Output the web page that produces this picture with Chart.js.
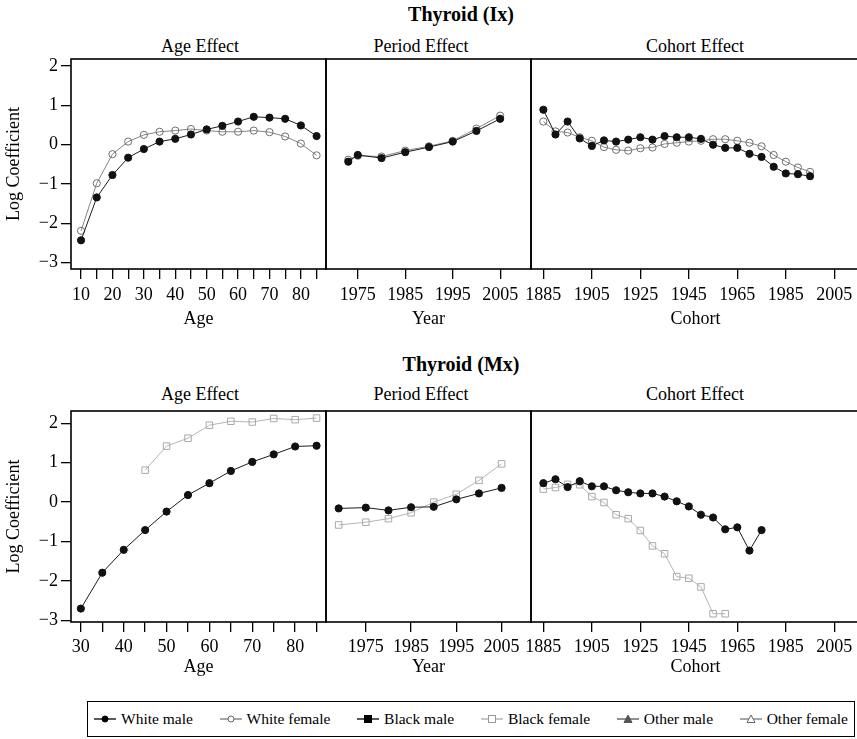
<!DOCTYPE html>
<html>
<head>
<meta charset="utf-8">
<script src="https://cdn.jsdelivr.net/npm/chart.js@4.4.1/dist/chart.umd.min.js"></script>
<style>
html,body{margin:0;padding:0;background:#fff;}
body{width:857px;height:739px;overflow:hidden;position:relative;font-family:'Liberation Serif','Times New Roman',serif;color:#000;}
canvas{position:absolute;}
.t{position:absolute;white-space:nowrap;transform:translateX(-50%);line-height:1;font-size:18px;}
.tt{font-size:20px;font-weight:bold;}
#legend{position:absolute;left:87px;top:701px;width:768px;height:36px;border:1.5px solid #000;display:flex;align-items:center;justify-content:space-between;padding:0 6px 0 6px;box-sizing:border-box;font-size:15.5px;}
#legend .it{display:flex;align-items:center;white-space:nowrap;}
#legend svg{margin-right:5px;}
</style>
</head>
<body>
<div class="t tt" style="left:461px;top:4px;">Thyroid (Ix)</div>
<div class="t" style="left:200px;top:37px;">Age Effect</div>
<div class="t" style="left:421px;top:37px;">Period Effect</div>
<div class="t" style="left:695px;top:37px;">Cohort Effect</div>
<div class="t tt" style="left:461px;top:354px;">Thyroid (Mx)</div>
<div class="t" style="left:200px;top:385px;">Age Effect</div>
<div class="t" style="left:421px;top:385px;">Period Effect</div>
<div class="t" style="left:695px;top:385px;">Cohort Effect</div>
<div id="legend"></div>
<script>
// ---------------- DATA ----------------
// Thyroid (Ix) - incidence
const ixAge = [10, 15, 20, 25, 30, 35, 40, 45, 50, 55, 60, 65, 70, 75, 80, 85];
const ixAgeWhiteMale   = [-2.43, -1.34, -0.77, -0.33, -0.11, 0.08, 0.15, 0.26, 0.39, 0.48, 0.59, 0.71, 0.69, 0.66, 0.49, 0.22];
const ixAgeWhiteFemale = [-2.19, -0.98, -0.24, 0.08, 0.25, 0.33, 0.36, 0.40, 0.36, 0.33, 0.33, 0.36, 0.32, 0.21, 0.03, -0.27];

const ixPeriod = [1973, 1975, 1980, 1985, 1990, 1995, 2000, 2005];
const ixPeriodWhiteMale   = [-0.43, -0.26, -0.34, -0.19, -0.06, 0.08, 0.35, 0.66];
const ixPeriodWhiteFemale = [-0.38, -0.28, -0.30, -0.15, -0.04, 0.10, 0.41, 0.74];

const ixCohort = [1885, 1890, 1895, 1900, 1905, 1910, 1915, 1920, 1925, 1930, 1935, 1940, 1945, 1950, 1955, 1960, 1965, 1970, 1975, 1980, 1985, 1990, 1995];
const ixCohortWhiteMale   = [0.89, 0.26, 0.59, 0.16, -0.03, 0.11, 0.08, 0.13, 0.19, 0.13, 0.22, 0.19, 0.19, 0.15, 0.00, -0.08, -0.08, -0.23, -0.31, -0.56, -0.73, -0.75, -0.80];
const ixCohortWhiteFemale = [0.59, 0.34, 0.31, 0.19, 0.10, -0.06, -0.13, -0.15, -0.09, -0.07, 0.02, 0.05, 0.08, 0.10, 0.14, 0.14, 0.10, 0.05, -0.04, -0.26, -0.43, -0.58, -0.69];

// Thyroid (Mx) - mortality
const mxAge = [30, 35, 40, 45, 50, 55, 60, 65, 70, 75, 80, 85];
const mxAgeWhiteMale = [-2.70, -1.79, -1.21, -0.71, -0.24, 0.18, 0.48, 0.79, 1.02, 1.21, 1.41, 1.43];
const mxAgeBlackFemaleX = [45, 50, 55, 60, 65, 70, 75, 80, 85];
const mxAgeBlackFemale  = [0.81, 1.42, 1.62, 1.95, 2.05, 2.03, 2.12, 2.09, 2.13];

const mxPeriod = [1969, 1975, 1980, 1985, 1990, 1995, 2000, 2005];
const mxPeriodWhiteMale   = [-0.16, -0.14, -0.21, -0.13, -0.12, 0.07, 0.22, 0.36];
const mxPeriodBlackFemale = [-0.58, -0.51, -0.42, -0.27, 0.00, 0.20, 0.55, 0.97];

const mxCohortWhiteMaleX = [1885, 1890, 1895, 1900, 1905, 1910, 1915, 1920, 1925, 1930, 1935, 1940, 1945, 1950, 1955, 1960, 1965, 1970, 1975];
const mxCohortWhiteMale  = [0.48, 0.58, 0.38, 0.53, 0.40, 0.40, 0.30, 0.25, 0.22, 0.22, 0.14, 0.02, -0.11, -0.32, -0.39, -0.69, -0.64, -1.23, -0.71];
const mxCohortBlackFemaleX = [1885, 1890, 1895, 1900, 1905, 1910, 1915, 1920, 1925, 1930, 1935, 1940, 1945, 1950, 1955, 1960];
const mxCohortBlackFemale  = [0.33, 0.37, 0.45, 0.44, 0.14, -0.01, -0.32, -0.42, -0.72, -1.11, -1.31, -1.89, -1.93, -2.15, -2.83, -2.83];

// Tick values and labels
const yTickValues = [-3, -2, -1, 0, 1, 2];
const ixAgeTicks = [10, 15, 20, 25, 30, 35, 40, 45, 50, 55, 60, 65, 70, 75, 80, 85];
const ixAgeLabels = [10, 20, 30, 40, 50, 60, 70, 80];
const mxAgeTicks = [30, 35, 40, 45, 50, 55, 60, 65, 70, 75, 80, 85];
const mxAgeLabels = [30, 40, 50, 60, 70, 80];
const periodTicks = [1975, 1985, 1995, 2005];
const cohortTicks = [1885, 1905, 1925, 1945, 1965, 1985, 2005];

const legendLabels = ['White male', 'White female', 'Black male', 'Black female', 'Other male', 'Other female'];

// ---------------- STYLE / LAYOUT ----------------
const FONT = "'Liberation Serif', 'Times New Roman', serif";
const ROWS = [
  {top: 59, bottom: 269, xAxisH: 61, tickPad: 5, yMin: -3.16, yMax: 2.18},
  {top: 411, bottom: 622, xAxisH: 56, tickPad: 4, yMin: -3.04, yMax: 2.31}
];
const COLS = [{left: 71, right: 326}, {left: 326, right: 531}, {left: 531, right: 860}];

const STYLE = {
  whiteMale:   {borderColor: '#1c1c1c', borderWidth: 1, pointStyle: 'circle', pointRadius: 3.6, pointBackgroundColor: '#111', pointBorderColor: '#111', pointBorderWidth: 1, order: 0},
  whiteFemale: {borderColor: '#858585', borderWidth: 1, pointStyle: 'circle', pointRadius: 3.6, pointBackgroundColor: 'rgba(0,0,0,0)', pointBorderColor: '#6e6e6e', pointBorderWidth: 1, order: 1},
  blackFemale: {borderColor: '#b5b5b5', borderWidth: 1, pointStyle: 'rect', pointRadius: 4.6, pointBackgroundColor: 'rgba(0,0,0,0)', pointBorderColor: '#a9a9a9', pointBorderWidth: 1, order: 1}
};

function pts(xs, ys) { return xs.map((x, i) => ({x: x, y: ys[i]})); }
function ds(label, xs, ys, style) {
  return Object.assign({label: label, data: pts(xs, ys), fill: false, tension: 0}, style);
}

const framePlugin = {
  id: 'frame',
  beforeDatasetsDraw(chart) {
    const {ctx, chartArea: a} = chart;
    ctx.save();
    ctx.strokeStyle = '#000';
    ctx.lineWidth = 1.6;
    ctx.strokeRect(a.left, a.top, a.right - a.left, a.bottom - a.top);
    ctx.restore();
  }
};

function panel(row, col, cfg) {
  const PAD = 16;
  const r = ROWS[row], c = COLS[col];
  const left = col === 0 ? 0 : c.left - PAD;
  const top = r.top - PAD;
  const width = c.right + PAD - left;
  const height = r.bottom - top + r.xAxisH;
  const cv = document.createElement('canvas');
  cv.width = width; cv.height = height;
  cv.style.left = left + 'px'; cv.style.top = top + 'px';
  cv.style.width = width + 'px'; cv.style.height = height + 'px';
  document.body.appendChild(cv);
  const labelSet = cfg.labels || cfg.ticks;
  const yW = col === 0 ? c.left : 0;
  new Chart(cv, {
    type: 'line',
    data: {datasets: cfg.datasets},
    plugins: [framePlugin],
    options: {
      responsive: false,
      animation: false,
      devicePixelRatio: 1,
      events: [],
      layout: {padding: {top: PAD, right: PAD, bottom: 0, left: col === 0 ? 0 : PAD}},
      plugins: {legend: {display: false}, tooltip: {enabled: false}, title: {display: false}},
      scales: {
        x: {
          type: 'linear', min: cfg.xMin, max: cfg.xMax, position: 'bottom',
          afterBuildTicks: s => { s.ticks = cfg.ticks.map(v => ({value: v})); },
          afterFit: s => { s.height = r.xAxisH; s.paddingLeft = 0; s.paddingRight = 0; s.paddingTop = 0; s.paddingBottom = 0; },
          grid: {drawOnChartArea: false, drawTicks: true, tickLength: 10, color: '#000', lineWidth: 1.3},
          border: {display: false},
          ticks: {color: '#000', font: {family: FONT, size: 18}, padding: r.tickPad, maxRotation: 0, minRotation: 0, autoSkip: false,
                  callback: v => labelSet.includes(v) ? String(v) : ''},
          title: {display: true, text: cfg.xTitle, color: '#000', font: {family: FONT, size: 18}, padding: {top: 0, bottom: 0}}
        },
        y: {
          type: 'linear', min: r.yMin, max: r.yMax, position: 'left', display: col === 0,
          afterBuildTicks: s => { s.ticks = yTickValues.map(v => ({value: v})); },
          afterFit: s => { s.width = yW; s.paddingTop = 0; s.paddingBottom = 0; s.paddingLeft = 0; s.paddingRight = 0; },
          grid: {drawOnChartArea: false, drawTicks: true, tickLength: 10, color: '#000', lineWidth: 1.3},
          border: {display: false},
          ticks: {color: '#000', font: {family: FONT, size: 18}, padding: 3, autoSkip: false,
                  callback: v => String(v).replace('-', '\u2212')},
          title: {display: true, text: 'Log Coefficient', color: '#000', font: {family: FONT, size: 18}, padding: {top: 3, bottom: 0}}
        }
      }
    }
  });
}

// Row 1: Thyroid (Ix)
panel(0, 0, {xMin: 6.8, xMax: 88, ticks: ixAgeTicks, labels: ixAgeLabels, xTitle: 'Age', datasets: [
  ds('White male', ixAge, ixAgeWhiteMale, STYLE.whiteMale),
  ds('White female', ixAge, ixAgeWhiteFemale, STYLE.whiteFemale)
]});
panel(0, 1, {xMin: 1968.3, xMax: 2011.5, ticks: periodTicks, xTitle: 'Year', datasets: [
  ds('White male', ixPeriod, ixPeriodWhiteMale, STYLE.whiteMale),
  ds('White female', ixPeriod, ixPeriodWhiteFemale, STYLE.whiteFemale)
]});
panel(0, 2, {xMin: 1879.9, xMax: 2015.6, ticks: cohortTicks, xTitle: 'Cohort', datasets: [
  ds('White male', ixCohort, ixCohortWhiteMale, STYLE.whiteMale),
  ds('White female', ixCohort, ixCohortWhiteFemale, STYLE.whiteFemale)
]});

// Row 2: Thyroid (Mx)
panel(1, 0, {xMin: 27.7, xMax: 87.2, ticks: mxAgeTicks, labels: mxAgeLabels, xTitle: 'Age', datasets: [
  ds('White male', mxAge, mxAgeWhiteMale, STYLE.whiteMale),
  ds('Black female', mxAgeBlackFemaleX, mxAgeBlackFemale, STYLE.blackFemale)
]});
panel(1, 1, {xMin: 1966.2, xMax: 2011.5, ticks: periodTicks, xTitle: 'Year', datasets: [
  ds('White male', mxPeriod, mxPeriodWhiteMale, STYLE.whiteMale),
  ds('Black female', mxPeriod, mxPeriodBlackFemale, STYLE.blackFemale)
]});
panel(1, 2, {xMin: 1879.9, xMax: 2015.6, ticks: cohortTicks, xTitle: 'Cohort', datasets: [
  ds('White male', mxCohortWhiteMaleX, mxCohortWhiteMale, STYLE.whiteMale),
  ds('Black female', mxCohortBlackFemaleX, mxCohortBlackFemale, STYLE.blackFemale)
]});

// ---------------- LEGEND ----------------
const legendMarkers = [
  {line: '#000', shape: 'circle', fill: '#000', stroke: '#000'},
  {line: '#777', shape: 'circle', fill: 'none', stroke: '#666'},
  {line: '#000', shape: 'square', fill: '#000', stroke: '#000'},
  {line: '#aaa', shape: 'square', fill: 'none', stroke: '#999'},
  {line: '#555', shape: 'triangle', fill: '#555', stroke: '#555'},
  {line: '#777', shape: 'triangle', fill: 'none', stroke: '#666'}
];
const leg = document.getElementById('legend');
legendLabels.forEach((lab, i) => {
  const m = legendMarkers[i];
  let shape = '';
  if (m.shape === 'circle') shape = `<circle cx="11" cy="7" r="3" fill="${m.fill === 'none' ? '#fff' : m.fill}" stroke="${m.stroke}" stroke-width="1"/>`;
  if (m.shape === 'square') shape = `<rect x="7.5" y="3.5" width="7" height="7" fill="${m.fill === 'none' ? '#fff' : m.fill}" stroke="${m.stroke}" stroke-width="1"/>`;
  if (m.shape === 'triangle') shape = `<polygon points="11,3 15,10.5 7,10.5" fill="${m.fill === 'none' ? '#fff' : m.fill}" stroke="${m.stroke}" stroke-width="1"/>`;
  const it = document.createElement('div');
  it.className = 'it';
  it.innerHTML = `<svg width="22" height="14" viewBox="0 0 22 14"><line x1="0" y1="7" x2="22" y2="7" stroke="${m.line}" stroke-width="1.3"/>${shape}</svg><span>${lab}</span>`;
  leg.appendChild(it);
});
</script>
</body>
</html>
